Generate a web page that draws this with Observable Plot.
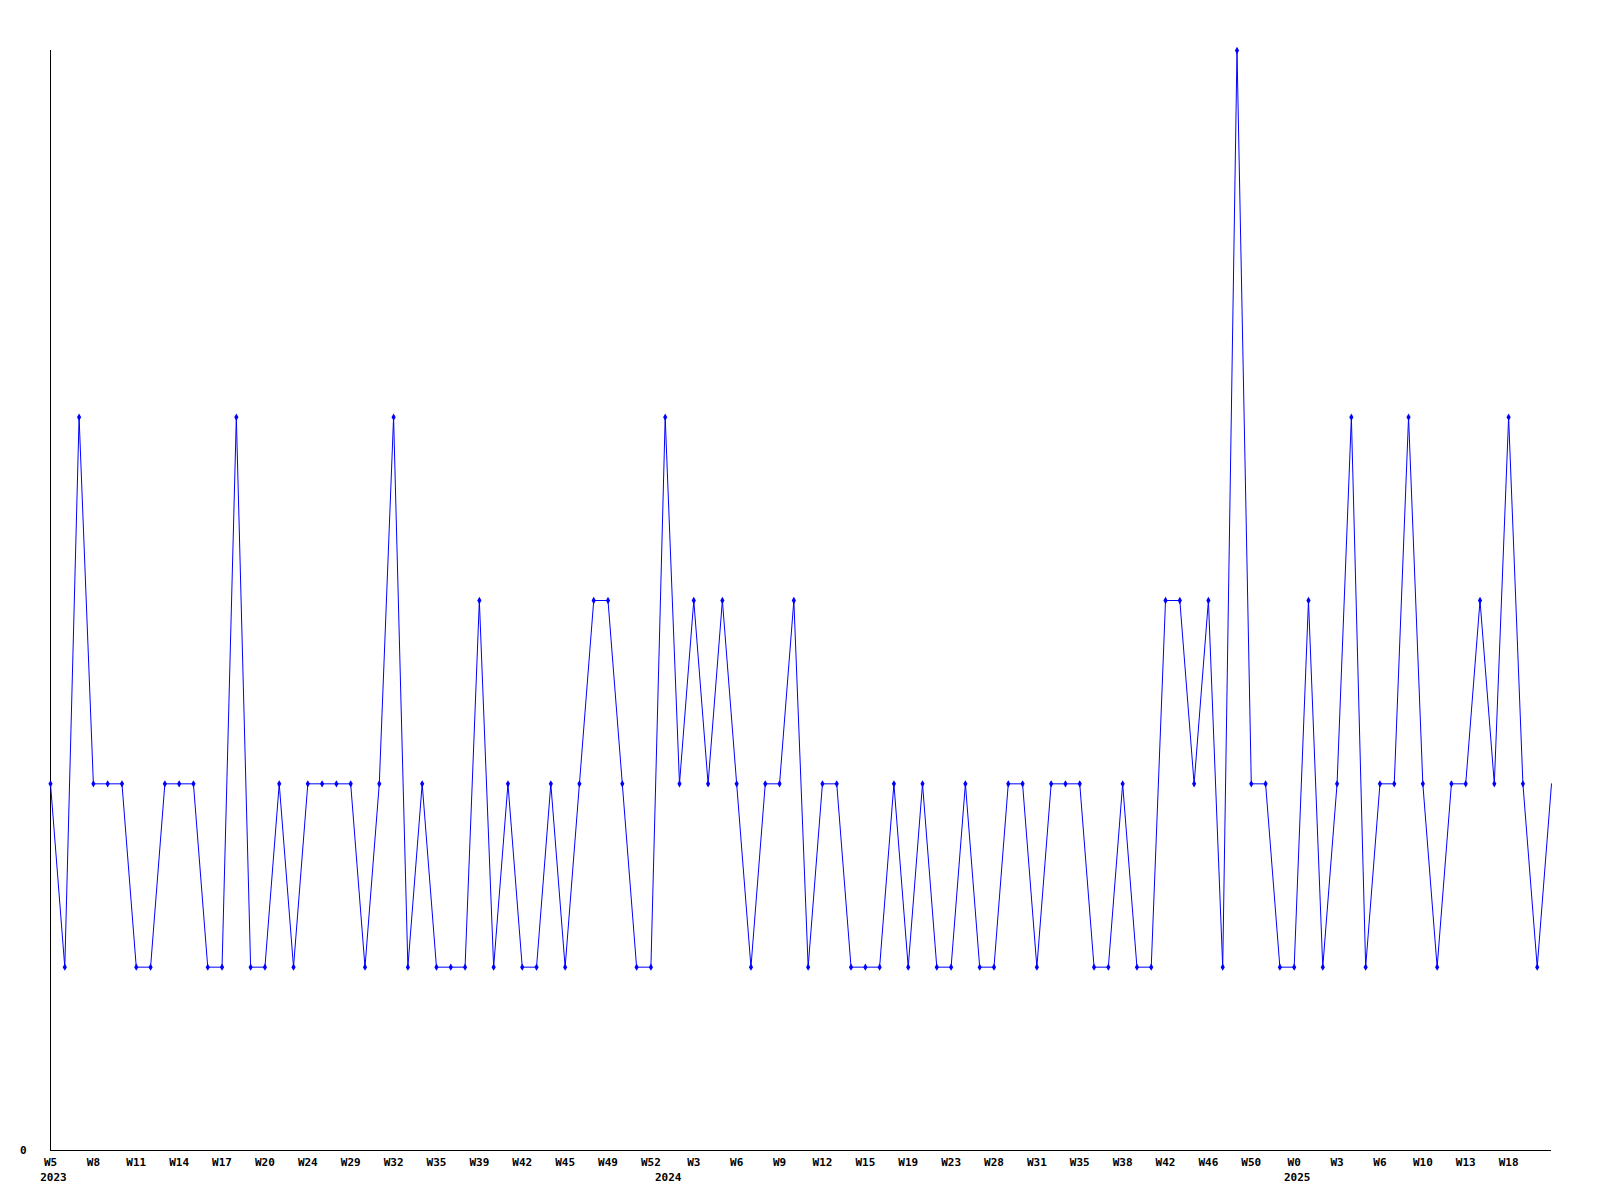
<!DOCTYPE html>
<html>
<head>
<meta charset="utf-8">
<script src="https://cdn.jsdelivr.net/npm/d3@7"></script>
<script src="https://cdn.jsdelivr.net/npm/@observablehq/plot@0.6"></script>
<style>
  html, body { margin: 0; padding: 0; background: #fff; }
  #chart svg { display: block; }
</style>
</head>
<body>
<div id="chart"></div>
<script>
// Weekly values (one per data point, in order)
const values = [
  2, 1, 4, 2, 2, 2, 1, 1, 2, 2,
  2, 1, 1, 4, 1, 1, 2, 1, 2, 2,
  2, 2, 1, 2, 4, 1, 2, 1, 1, 1,
  3, 1, 2, 1, 1, 2, 1, 2, 3, 3,
  2, 1, 1, 4, 2, 3, 2, 3, 2, 1,
  2, 2, 3, 1, 2, 2, 1, 1, 1, 2,
  1, 2, 1, 1, 2, 1, 1, 2, 2, 1,
  2, 2, 2, 1, 1, 2, 1, 1, 3, 3,
  2, 3, 1, 6, 2, 2, 1, 1, 3, 1,
  2, 4, 1, 2, 2, 4, 2, 1, 2, 2,
  3, 2, 4, 2, 1, 2
];
// Tick labels, one every third point
const weekTicks = [
  "W5", "W8", "W11", "W14", "W17", "W20", "W24", "W29", "W32", "W35",
  "W39", "W42", "W45", "W49", "W52", "W3", "W6", "W9", "W12", "W15",
  "W19", "W23", "W28", "W31", "W35", "W38", "W42", "W46", "W50", "W0",
  "W3", "W6", "W10", "W13", "W18"
];
const tickEvery = 3;
const years = ["2023", "2024", "2025"];
const yearPoint = [0, 43, 87];

const data = values.map((v, i) => ({i, v}));
const tickIdx = weekTicks.map((_, k) => k * tickEvery);
const yearData = years.map((y, k) => ({y, i: yearPoint[k]}));

const font = 'bold 11px "DejaVu Sans Mono", "Liberation Mono", monospace';

const chart = Plot.plot({
  width: 1600,
  height: 1200,
  marginLeft: 50,
  marginRight: 49,
  marginTop: 50,
  marginBottom: 50,
  style: {font, background: "#fff", color: "#000"},
  x: {domain: [0, values.length - 1], axis: null},
  y: {domain: [0, 6], axis: null},
  marks: [
    Plot.axisX({
      ticks: tickIdx,
      tickFormat: d => weekTicks[d / tickEvery],
      tickSize: 0,
      tickPadding: 8,
      fontWeight: "bold",
      fontSize: 11,
      fill: "#000",
      label: null
    }),
    Plot.axisY({
      ticks: [0],
      tickFormat: d => String(d),
      tickSize: 0,
      tickPadding: 24,
      fontWeight: "bold",
      fontSize: 11,
      fill: "#000",
      label: null
    }),
    Plot.text(yearData, {
      x: "i", y: () => 0, text: "y",
      dx: 3, dy: 27, fontWeight: "bold", fontSize: 11, fill: "#000", textAnchor: "middle"
    }),
    Plot.ruleX([0], {stroke: "#000", strokeWidth: 1}),
    Plot.ruleY([0], {stroke: "#000", strokeWidth: 1}),
    Plot.line(data, {x: "i", y: "v", stroke: "#0000ff", strokeWidth: 1, curve: "linear"}),
    Plot.dot(data.slice(0, -1), {x: "i", y: "v", symbol: "diamond", r: 2.2, fill: "#0000ff", stroke: "none"})
  ]
});

document.getElementById("chart").appendChild(chart);
</script>
</body>
</html>
